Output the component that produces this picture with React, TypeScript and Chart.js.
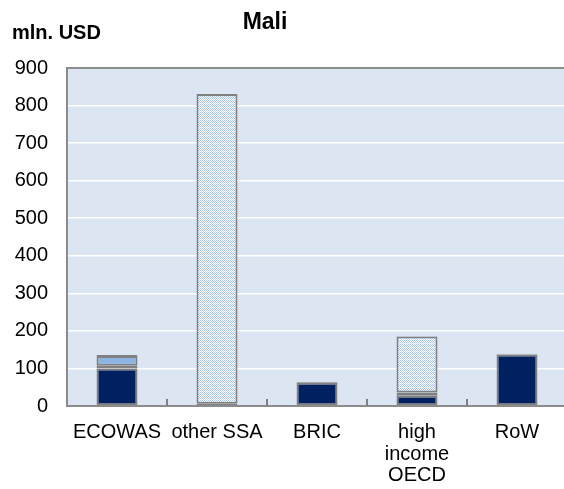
import React, { useEffect, useRef } from "react";
import { Chart, registerables } from "chart.js";

Chart.register(...registerables);

const categories: (string | string[])[] = ["ECOWAS", "other SSA", "BRIC", ["high", "income", "OECD"], "RoW"];
const seriesNavy = [100, null, 62, 27, 137];
const seriesGray = [7, 6, null, 9, null];
const seriesLightBlue = [26, null, null, null, null];
const seriesPattern = [null, 825, null, 149, null];
const seriesTop = [3, null, 2, 1, 2];
const yTicks = [0, 100, 200, 300, 400, 500, 600, 700, 800, 900];
const titleText = "Mali";
const unitText = "mln. USD";

const FONT = "'Liberation Sans', Arial, sans-serif";
const GRAY = "#808080";

function makePattern(draw: (ctx: CanvasRenderingContext2D) => void, w: number, h: number) {
  const c = document.createElement("canvas");
  c.width = w;
  c.height = h;
  const ctx = c.getContext("2d")!;
  draw(ctx);
  const p = document.createElement("canvas").getContext("2d")!.createPattern(c, "repeat");
  return p as CanvasPattern;
}

export default function App() {
  const ref = useRef<HTMLCanvasElement>(null);
  useEffect(() => {
    const canvas = ref.current!;
    const wave = makePattern((ctx) => {
      ctx.fillStyle = "#ffffff";
      ctx.fillRect(0, 0, 4, 4);
      ctx.fillStyle = "#a4c1e8";
      ctx.fillRect(0, 0, 1, 1);
      ctx.fillRect(1, 1, 1, 1);
      ctx.fillRect(2, 0, 1, 1);
      ctx.fillRect(3, 1, 1, 1);
      ctx.fillRect(0, 2, 1, 1);
      ctx.fillRect(2, 2, 1, 1);
      ctx.fillStyle = "#c9dbf2";
      ctx.fillRect(1, 3, 1, 1);
      ctx.fillRect(3, 3, 1, 1);
    }, 4, 4);
    const dashGray = makePattern((ctx) => {
      ctx.fillStyle = "#8a8a8a";
      ctx.fillRect(0, 0, 6, 6);
      ctx.fillStyle = "#ffffff";
      ctx.fillRect(0, 2, 4, 2);
    }, 6, 6);
    const dashTop = makePattern((ctx) => {
      ctx.fillStyle = "#808080";
      ctx.fillRect(0, 0, 6, 6);
      ctx.fillStyle = "#b0b0b0";
      ctx.fillRect(0, 0, 3, 6);
    }, 6, 6);

    const common = {
      borderColor: GRAY,
      borderWidth: 2,
      borderSkipped: false as const,
      barPercentage: 0.41,
      categoryPercentage: 1,
    };

    const bgPlugin = {
      id: "bg",
      beforeDraw(chart: any) {
        const { ctx, chartArea: a } = chart;
        ctx.save();
        ctx.fillStyle = "#dce6f2";
        ctx.fillRect(a.left, a.top, a.right - a.left + 10, a.bottom - a.top);
        ctx.restore();
      },
      afterDatasetsDraw(chart: any) {
        const { ctx, chartArea: a } = chart;
        const xs = chart.scales.x;
        ctx.save();
        ctx.strokeStyle = "#8c8c8c";
        ctx.lineWidth = 2;
        ctx.beginPath();
        ctx.moveTo(a.right + 10, a.top);
        ctx.lineTo(a.left, a.top);
        ctx.lineTo(a.left, a.bottom);
        ctx.lineTo(a.right + 10, a.bottom);
        ctx.stroke();
        ctx.strokeStyle = GRAY;
        ctx.beginPath();
        for (let i = 1; i < categories.length; i++) {
          const x = Math.round((xs.getPixelForValue(i - 1) + xs.getPixelForValue(i)) / 2);
          ctx.moveTo(x, a.bottom);
          ctx.lineTo(x, a.bottom - 7);
        }
        ctx.stroke();
        ctx.restore();
      },
      afterDraw(chart: any) {
        const { ctx } = chart;
        ctx.save();
        ctx.fillStyle = "#000000";
        ctx.textBaseline = "alphabetic";
        ctx.font = `bold 23px ${FONT}`;
        ctx.textAlign = "center";
        ctx.fillText(titleText, 265, 29);
        ctx.font = `bold 20px ${FONT}`;
        ctx.textAlign = "left";
        ctx.fillText(unitText, 12, 39);
        ctx.restore();
      },
    };

    const chart = new Chart(canvas, {
      type: "bar",
      data: {
        labels: categories as any,
        datasets: [
          { label: "a", data: seriesNavy, backgroundColor: "#002060", ...common },
          { label: "b", data: seriesGray, backgroundColor: dashGray, ...common },
          { label: "c", data: seriesLightBlue, backgroundColor: "#8db4e2", ...common },
          { label: "d", data: seriesPattern, backgroundColor: wave, ...common },
          { label: "e", data: seriesTop, backgroundColor: dashTop, ...common },
        ] as any,
      },
      options: {
        responsive: false,
        animation: false,
        layout: { padding: { top: 68, left: 0, right: 0, bottom: 0 } },
        plugins: { legend: { display: false }, tooltip: { enabled: false }, title: { display: false } },
        scales: {
          x: {
            stacked: true,
            grid: { display: false, drawTicks: false },
            border: { display: false },
            ticks: {
              color: "#000000",
              font: { family: FONT, size: 20, lineHeight: 1.075 },
              padding: 16,
              maxRotation: 0,
              autoSkip: false,
            },
            afterFit(scale: any) {
              scale.height = 83;
            },
          },
          y: {
            stacked: true,
            min: 0,
            max: 900,
            afterBuildTicks(scale: any) {
              scale.ticks = yTicks.map((v) => ({ value: v }));
            },
            grid: { color: "#ffffff", lineWidth: 1.5, drawTicks: false },
            border: { display: false },
            ticks: {
              color: "#000000",
              font: { family: FONT, size: 20 },
              padding: 19,
            },
            afterFit(scale: any) {
              scale.width = 67;
            },
          },
        },
      },
      plugins: [bgPlugin],
    });
    return () => chart.destroy();
  }, []);

  return (
    <div style={{ position: "fixed", left: 0, top: 0, width: 564, height: 489, overflow: "hidden", background: "#fff" }}>
      <canvas ref={ref} width={567} height={489} style={{ display: "block" }} />
    </div>
  );
}
